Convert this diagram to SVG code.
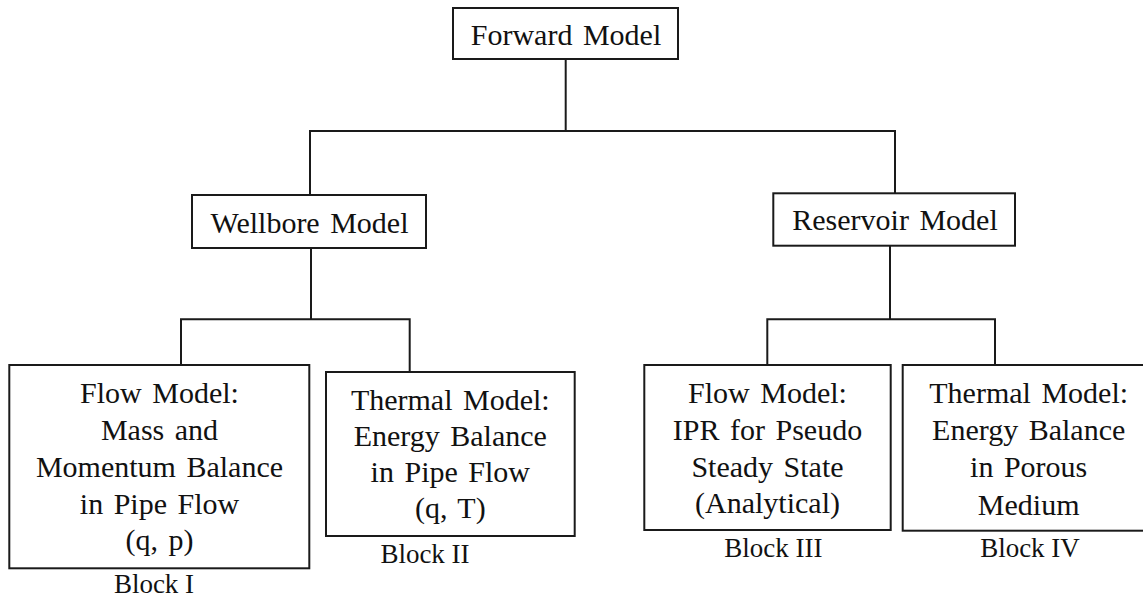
<svg xmlns="http://www.w3.org/2000/svg" width="1143" height="599" viewBox="0 0 1143 599">
  <style>
    .box { fill: #ffffff; stroke: #1a1a1a; stroke-width: 2; }
    .wire { fill: none; stroke: #1a1a1a; stroke-width: 2; }
    .t { font-family: "Liberation Serif", "Times New Roman", serif; font-size: 30px; word-spacing: 3px; fill: #111111; text-anchor: middle; }
    .lbl { font-family: "Liberation Serif", "Times New Roman", serif; font-size: 27px; fill: #111111; text-anchor: middle; }
  </style>
  <rect width="1143" height="599" fill="#ffffff"/>

  <!-- tree connectors -->
  <g id="connectors" class="wire">
    <path d="M565.7 59 V131"/>
    <path d="M310 195 V131 H895 V193.3"/>
    <path d="M311 248 V319.3"/>
    <path d="M181 365 V319.3 H409.7 V372"/>
    <path d="M890 246 V319.3"/>
    <path d="M767.3 365 V319.3 H995 V365"/>
  </g>

  <g id="forward-model">
    <rect class="box" x="453" y="8" width="225" height="51"/>
    <text class="t" x="566" y="45">Forward Model</text>
  </g>

  <g id="wellbore-model">
    <rect class="box" x="192" y="195" width="234" height="53"/>
    <text class="t" x="309.5" y="232.7">Wellbore Model</text>
  </g>

  <g id="reservoir-model">
    <rect class="box" x="773.3" y="193.3" width="241.7" height="52.4"/>
    <text class="t" x="895" y="230">Reservoir Model</text>
  </g>

  <g id="block-1">
    <rect class="box" x="9.3" y="365" width="300" height="203.3"/>
    <text class="t" x="159.5" y="403.3">Flow Model:</text>
    <text class="t" x="159.5" y="440">Mass and</text>
    <text class="t" x="159.5" y="476.7">Momentum Balance</text>
    <text class="t" x="159.5" y="513.5">in Pipe Flow</text>
    <text class="t" x="159.5" y="550">(q, p)</text>
    <text class="lbl" x="154" y="593">Block I</text>
  </g>

  <g id="block-2">
    <rect class="box" x="326" y="372" width="248.7" height="164"/>
    <text class="t" x="450.3" y="410">Thermal Model:</text>
    <text class="t" x="450.3" y="446">Energy Balance</text>
    <text class="t" x="450.3" y="482">in Pipe Flow</text>
    <text class="t" x="450.3" y="518.3">(q, T)</text>
    <text class="lbl" x="425" y="563">Block II</text>
  </g>

  <g id="block-3">
    <rect class="box" x="644.3" y="365" width="246.4" height="165"/>
    <text class="t" x="767.5" y="403.3">Flow Model:</text>
    <text class="t" x="767.5" y="440">IPR for Pseudo</text>
    <text class="t" x="767.5" y="476.7">Steady State</text>
    <text class="t" x="767.5" y="513.3">(Analytical)</text>
    <text class="lbl" x="773.3" y="556.7">Block III</text>
  </g>

  <g id="block-4">
    <rect class="box" x="902.7" y="365" width="252" height="165.7"/>
    <text class="t" x="1028.7" y="403.3">Thermal Model:</text>
    <text class="t" x="1028.7" y="440">Energy Balance</text>
    <text class="t" x="1028.7" y="476.7">in Porous</text>
    <text class="t" x="1028.7" y="515">Medium</text>
    <text class="lbl" x="1030" y="556.7">Block IV</text>
  </g>
</svg>
